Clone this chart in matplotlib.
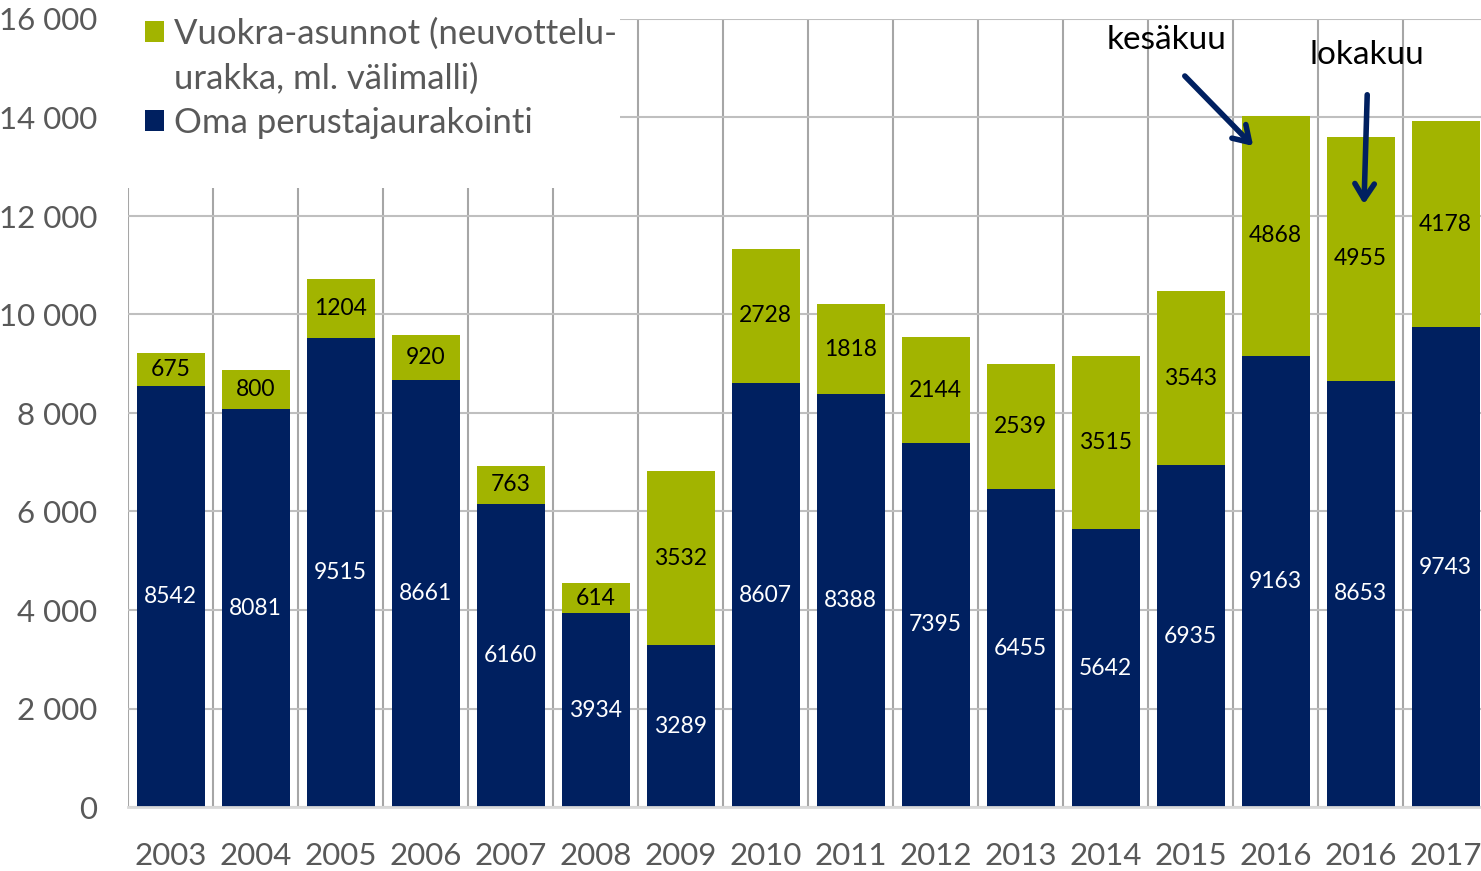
import numpy as np
import matplotlib.pyplot as plt
from matplotlib.patches import Rectangle

plt.rcParams['font.family'] = ['Lato', 'DejaVu Sans']

vuodet = ['2003', '2004', '2005', '2006', '2007', '2008', '2009', '2010',
          '2011', '2012', '2013', '2014', '2015', '2016', '2016', '2017']
oma = [8542, 8081, 9515, 8661, 6160, 3934, 3289, 8607,
       8388, 7395, 6455, 5642, 6935, 9163, 8653, 9743]
vuokra = [675, 800, 1204, 920, 763, 614, 3532, 2728,
          1818, 2144, 2539, 3515, 3543, 4868, 4955, 4178]

navy = '#002060'
vihrea = '#A2B400'
harmaa = '#595959'

fig = plt.figure(figsize=(14.81, 8.71), dpi=100)
ax = fig.add_axes([128 / 1481, 64 / 871, 1360 / 1481, 788 / 871])
ax.set_axisbelow(True)

x = np.arange(len(vuodet))
b1 = ax.bar(x, oma, width=0.8, color=navy, zorder=3,
            label='Oma perustajaurakointi')
b2 = ax.bar(x, vuokra, width=0.8, bottom=oma, color=vihrea, zorder=3,
            label='Vuokra-asunnot (neuvottelu-')

# arvot palkkien keskelle
for i in range(len(x)):
    ax.text(x[i], oma[i] / 2, str(oma[i]), ha='center', va='center',
            color='white', fontsize=16.5, zorder=4)
    ax.text(x[i], oma[i] + vuokra[i] / 2, str(vuokra[i]), ha='center',
            va='center', color='black', fontsize=16.5, zorder=4)

ax.set_xlim(-0.5, len(x) - 0.5)
ax.set_ylim(0, 16000)
ax.set_yticks(range(0, 16001, 2000))
ax.set_yticklabels([f'{v:,}'.replace(',', ' ') for v in range(0, 16001, 2000)])
ax.set_xticks(x)
ax.set_xticklabels(vuodet)
ax.set_xticks(np.arange(-0.5, len(x)), minor=True)
ax.tick_params(axis='both', which='both', length=0, labelsize=22.5,
               labelcolor=harmaa)
ax.tick_params(axis='x', pad=25)
ax.tick_params(axis='y', pad=22)

ax.grid(axis='y', which='major', color='#BFBFBF', linewidth=1.5)
ax.grid(axis='x', which='minor', color='#A6A6A6', linewidth=1.5)
ax.grid(axis='x', which='major', visible=False)
for s in ['top', 'right', 'left']:
    ax.spines[s].set_visible(False)
ax.spines['bottom'].set_color('#D9D9D9')
ax.spines['bottom'].set_linewidth(2)
ax.spines['bottom'].set_zorder(5)

# legendan valkoinen tausta
ax.add_patch(Rectangle((-0.6, 12570), 5.89, 4000, facecolor='white',
                       edgecolor='none', zorder=1, clip_on=False))
# toinen rivi omana rivinään, jotta vihreä neliö jää ylimmälle riville
tyhja = Rectangle((0, 0), 1, 1, fill=False, edgecolor='none',
                  label='urakka, ml. välimalli)')
leg = ax.legend(handles=[b2, tyhja, b1], loc='upper left',
                bbox_to_anchor=(-0.008, 1.037), frameon=False, fontsize=25,
                labelcolor=harmaa, handlelength=0.55, handleheight=0.55,
                handletextpad=0.3, labelspacing=0.36, borderpad=0.3)

# kuukausien nuolet
ax.text(11.72, 15574, 'kesäkuu', ha='center', va='center', fontsize=24,
        color='black', zorder=6)
ax.text(14.08, 15269, 'lokakuu', ha='center', va='center', fontsize=24,
        color='black', zorder=6)
nuoli = dict(arrowstyle='->,head_length=1.1,head_width=0.7', color=navy,
             linewidth=4)
ax.annotate('', xy=(12.76, 13381), xytext=(11.91, 14883),
            arrowprops=nuoli, zorder=6)
ax.annotate('', xy=(14.04, 12183), xytext=(14.08, 14518),
            arrowprops=nuoli, zorder=6)

fig.savefig('out.png', dpi=100)
